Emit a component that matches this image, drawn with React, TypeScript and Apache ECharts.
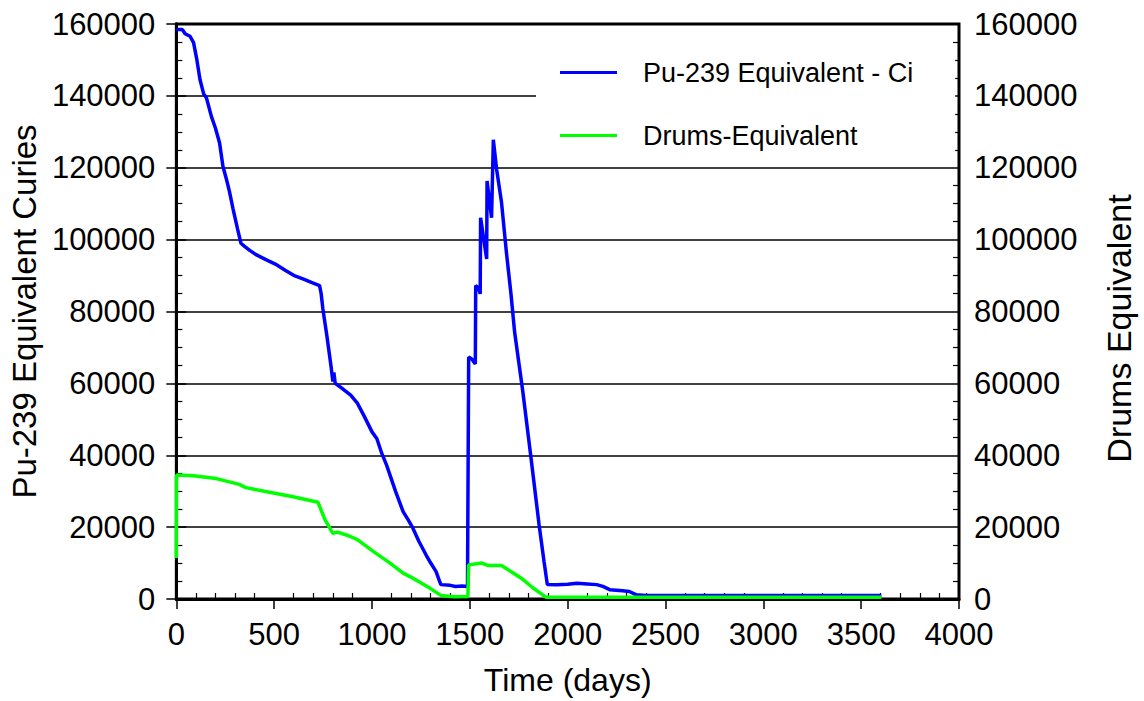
import React, { useEffect, useRef } from "react";
import * as echarts from "echarts";

const puDays = [0, 30, 45, 70, 88, 105, 121, 140, 154, 179, 200, 221, 238, 255, 271, 290, 313, 330, 347, 375, 405, 455, 506, 556, 606, 650, 690, 732, 740, 749, 770, 790, 800, 805, 812, 850, 891, 925, 958, 1000, 1025, 1050, 1075, 1120, 1159, 1185, 1209, 1240, 1276, 1300, 1327, 1345, 1352, 1400, 1427, 1460, 1488, 1494, 1510, 1528, 1530, 1545, 1553, 1555, 1586, 1588, 1611, 1620, 1637, 1662, 1687, 1710, 1729, 1771, 1813, 1854, 1879, 1896, 1946, 2000, 2047, 2100, 2148, 2180, 2215, 2280, 2315, 2349, 2400, 3603];
const puValues = [158500, 158500, 157300, 156600, 154800, 150000, 144500, 140500, 139400, 134300, 131000, 126900, 120400, 117000, 113500, 108500, 102900, 99000, 98200, 97000, 95900, 94500, 93200, 91500, 89900, 89000, 88100, 87200, 85000, 80700, 73000, 65000, 60500, 63000, 60000, 58500, 56700, 54500, 51100, 46500, 44600, 40500, 37200, 30000, 24300, 22000, 19700, 16000, 12300, 10000, 7700, 5000, 4000, 3800, 3500, 3600, 3500, 67300, 66800, 65400, 87200, 86500, 84900, 106100, 94600, 116300, 106100, 127800, 119500, 110300, 96400, 85000, 74200, 57600, 39100, 20600, 10500, 4000, 3950, 4100, 4400, 4200, 4000, 3500, 2600, 2300, 2100, 1200, 1000, 1000];

const drumDays = [0, 1, 87, 204, 322, 355, 456, 590, 724, 760, 799, 824, 880, 925, 1008, 1092, 1159, 1209, 1293, 1352, 1420, 1490, 1494, 1561, 1595, 1662, 1700, 1763, 1820, 1871, 1890, 3603];
const drumValues = [11400, 34500, 34300, 33500, 31900, 31000, 29900, 28500, 26900, 22000, 18300, 18600, 17600, 16500, 13200, 10000, 7200, 5800, 3100, 1000, 600, 700, 9500, 10000, 9300, 9300, 8000, 5800, 3200, 1200, 500, 500];

const seriesNames = ["Pu-239 Equivalent - Ci", "Drums-Equivalent"];
const xAxisName = "Time (days)";
const leftAxisName = "Pu-239 Equivalent Curies";
const rightAxisName = "Drums Equivalent";

const FONT = "'Liberation Sans', Arial, Helvetica, sans-serif";

export default function App() {
  const ref = useRef<HTMLDivElement>(null);
  useEffect(() => {
    if (!ref.current) return;
    const chart = echarts.init(ref.current, undefined, { renderer: "svg" });
    const black = "#000";
    const plain = (v: number) => String(v);
    const tickLabel = { fontSize: 31, color: black, fontFamily: FONT, formatter: plain };
    const nameStyle = { fontSize: 32, color: black, fontFamily: FONT };
    const yBase = { type: "value", min: 0, max: 160000, interval: 20000 };
    const xBase = { type: "value", min: 0, max: 4000, interval: 500 };
    chart.setOption({
      animation: false,
      backgroundColor: "#fff",
      textStyle: { fontFamily: FONT },
      grid: { left: 176, right: 172, top: 24, bottom: 100, show: true, borderColor: black, borderWidth: 3, backgroundColor: "transparent" },
      legend: {
        orient: "vertical",
        left: 536,
        top: 46,
        backgroundColor: "#fff",
        padding: [13, 42, 12, 24],
        icon: "rect",
        itemWidth: 57,
        itemHeight: 3,
        itemGap: 36,
        textStyle: { fontSize: 27, color: black, fontFamily: FONT, padding: [0, 0, 0, 21] },
        data: seriesNames,
      },
      xAxis: [
        {
          ...xBase,
          position: "bottom",
          name: xAxisName,
          nameLocation: "middle",
          nameGap: 65,
          nameTextStyle: nameStyle,
          axisLine: { show: true, lineStyle: { color: black, width: 3 } },
          axisTick: { show: true, length: 10, lineStyle: { color: black, width: 1.5 } },
          axisLabel: { ...tickLabel, margin: 20 },
          splitLine: { show: false },
        },
        {
          ...xBase,
          position: "bottom",
          axisLine: { show: false },
          axisTick: { show: false, inside: true },
          axisLabel: { show: false },
          minorTick: { show: true, splitNumber: 5, length: 6, lineStyle: { color: black, width: 1.2 } },
          splitLine: { show: false },
        },
      ],
      yAxis: [
        {
          ...yBase,
          position: "left",
          name: leftAxisName,
          nameLocation: "middle",
          nameGap: 134,
          nameTextStyle: { ...nameStyle, fontSize: 33 },
          axisLine: { show: true, lineStyle: { color: black, width: 3 } },
          axisTick: { show: true, length: 10, lineStyle: { color: black, width: 1.5 } },
          axisLabel: { ...tickLabel, margin: 21 },
          splitLine: { show: true, lineStyle: { color: black, width: 1.5 } },
        },
        {
          ...yBase,
          position: "right",
          name: rightAxisName,
          nameLocation: "middle",
          nameGap: 143,
          nameTextStyle: { ...nameStyle, fontSize: 34, padding: [0, 34, 0, 0] },
          axisLine: { show: true, lineStyle: { color: black, width: 3 } },
          axisTick: { show: true, length: 10, lineStyle: { color: black, width: 1.5 } },
          axisLabel: { ...tickLabel, margin: 15 },
          splitLine: { show: false },
        },
        {
          ...yBase,
          position: "left",
          axisLine: { show: false },
          axisTick: { show: false, inside: true },
          axisLabel: { show: false },
          minorTick: { show: true, splitNumber: 4, length: 6, lineStyle: { color: black, width: 1.2 } },
          splitLine: { show: false },
        },
        {
          ...yBase,
          position: "right",
          axisLine: { show: false },
          axisTick: { show: false, inside: true },
          axisLabel: { show: false },
          minorTick: { show: true, splitNumber: 4, length: 6, lineStyle: { color: black, width: 1.2 } },
          splitLine: { show: false },
        },
      ],
      series: [
        {
          name: seriesNames[0],
          type: "line",
          xAxisIndex: 0,
          yAxisIndex: 0,
          symbol: "none",
          showSymbol: false,
          lineStyle: { color: "#0000ff", width: 3.5 },
          itemStyle: { color: "#0000ff" },
          data: puDays.map((d, i) => [d, puValues[i]]),
          z: 3,
        },
        {
          name: seriesNames[1],
          type: "line",
          xAxisIndex: 0,
          yAxisIndex: 1,
          symbol: "none",
          showSymbol: false,
          lineStyle: { color: "#00ff00", width: 3.5 },
          itemStyle: { color: "#00ff00" },
          data: drumDays.map((d, i) => [d, drumValues[i]]),
          z: 4,
        },
      ],
    });
    return () => chart.dispose();
  }, []);
  return <div ref={ref} style={{ position: "fixed", left: 0, top: 0, width: 1144, height: 701 }} />;
}
